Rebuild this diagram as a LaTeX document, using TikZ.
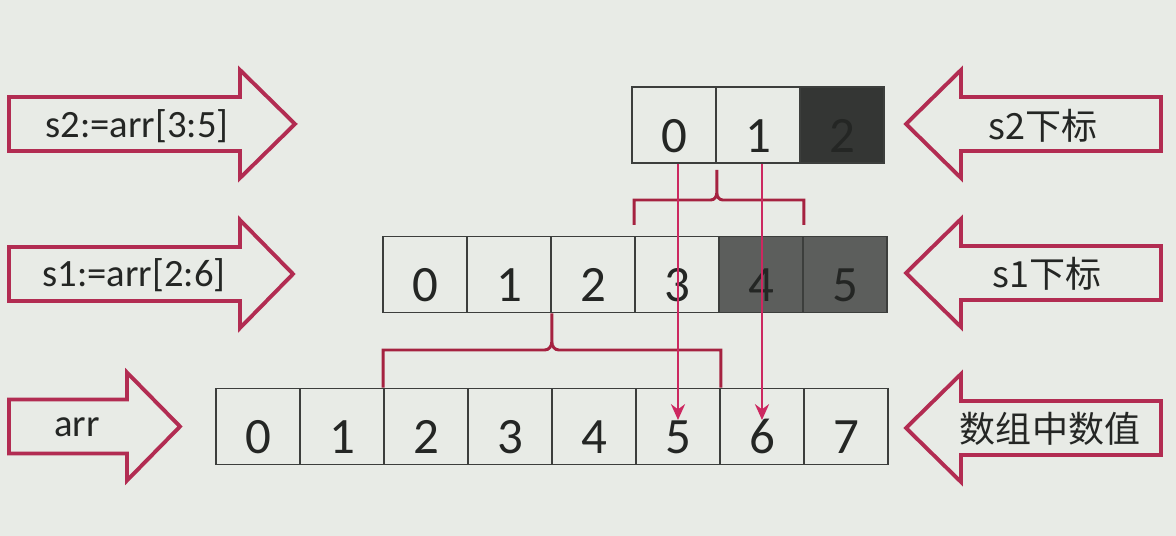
\documentclass[tikz,border=0pt]{standalone}
\usepackage{fontspec}
\setmainfont{Carlito}
\newfontfamily\cjk{Noto Sans CJK SC}
\usetikzlibrary{arrows.meta,calc}

\definecolor{paper}{RGB}{232,235,230}
\definecolor{ink}{RGB}{36,38,36}
\definecolor{gridline}{RGB}{60,62,60}
\definecolor{midcell}{RGB}{92,94,92}
\definecolor{darkcell}{RGB}{52,54,52}
\definecolor{outline}{RGB}{178,44,82}
\definecolor{bracecol}{RGB}{165,34,64}
\definecolor{pointer}{RGB}{204,40,96}

\begin{document}
\begin{tikzpicture}[x=0.02cm,y=-0.02cm,>=Stealth,
	cell/.style={draw=gridline,line width=0.9pt,minimum width=1.68cm,minimum height=1.52cm,
		inner sep=0pt,text height=31pt,text depth=0pt,text=ink,font=\fontsize{29}{32}\selectfont},
	blk/.style={draw=outline,line width=2.2pt,fill=paper,line join=miter},
	lbl/.style={text=ink,inner sep=0pt,font=\fontsize{22}{26}\selectfont},
	cjklbl/.style={lbl,font=\cjk\fontsize{20.5}{24}\selectfont},
	brace/.style={draw=bracecol,line width=1.7pt},
	ptr/.style={draw=pointer,line width=1.6pt,->,>={Stealth[length=9pt,width=8pt]},shorten >=0.13cm}]
	
	% page
	\fill[paper] (0,0) rectangle (1176,536);
	\useasboundingbox (0,0) rectangle (1176,536);
	
	% block arrows on the left
	\foreach \cy/\xb/\xt in {124/240/295, 274/240/293, 426.5/127/180}
	\draw[blk] (9,{\cy-27}) -- (\xb,{\cy-27}) -- (\xb,{\cy-54}) -- (\xt,\cy)
		-- (\xb,{\cy+54}) -- (\xb,{\cy+27}) -- (9,{\cy+27}) -- cycle;
	
	% block arrows on the right
	\foreach \cy in {124, 273, 428}
	\draw[blk] (1161,{\cy-27}) -- (961,{\cy-27}) -- (961,{\cy-54}) -- (906,\cy)
		-- (961,{\cy+54}) -- (961,{\cy+27}) -- (1161,{\cy+27}) -- cycle;
	
	% labels
	\node[lbl] (lblstwo) at (137,126) {s2:=arr[3:5]};
	\node[lbl] (lblsone) at (134,275) {s1:=arr[2:6]};
	\node[lbl] (lblarr) at (77,427) {arr};
	\node[cjklbl] (idxstwo) at (1043,126) {s2下标};
	\node[cjklbl] (idxsone) at (1047,274) {s1下标};
	\node[cjklbl] (valarr) at (1050,429) {数组中数值};
	
	% arr
	\foreach \i in {0,...,7}
	\node[cell,fill=paper] (arr\i) at ({258+84*\i},426.5) {\i};
	
	% s1 = arr[2:6]
	\foreach \i/\f in {0/paper,1/paper,2/paper,3/paper,4/midcell,5/midcell}
	\node[cell,fill=\f] (sone\i) at ({425+84*\i},274.5) {\i};
	
	% s2 = s1[3:5]
	\foreach \i/\f in {0/paper,1/paper,2/darkcell}
	\node[cell,fill=\f] (stwo\i) at ({674+84*\i},125) {\i};
	
	% brace s1 -> arr
	\coordinate (tipone) at (sone1.south east |- 0,350);
	\draw[brace] (arr2.north west) |- ($(tipone)+(-7,0)$) to[out=0,in=-90] ($(tipone)+(0,-8)$)
		-- (sone1.south east);
	\draw[brace] (arr5.north east) |- ($(tipone)+(7,0)$) to[out=180,in=-90] ($(tipone)+(0,-8)$);
	
	% brace s2 -> s1
	\coordinate (tiptwo) at (stwo0.south east |- 0,200);
	\draw[brace] (sone3.north west |- 0,225) |- ($(tiptwo)+(-6,0)$) to[out=0,in=-90] ($(tiptwo)+(0,-7)$)
		-- (stwo0.south east |- 0,170);
	\draw[brace] (sone4.north east |- 0,225) |- ($(tiptwo)+(6,0)$) to[out=180,in=-90] ($(tiptwo)+(0,-7)$);
	
	% s2 cells point into arr
	\draw[ptr] (arr5.center |- stwo0.south) -- (arr5.center);
	\draw[ptr] (arr6.center |- stwo1.south) -- (arr6.center);
	
\end{tikzpicture}
\end{document}
